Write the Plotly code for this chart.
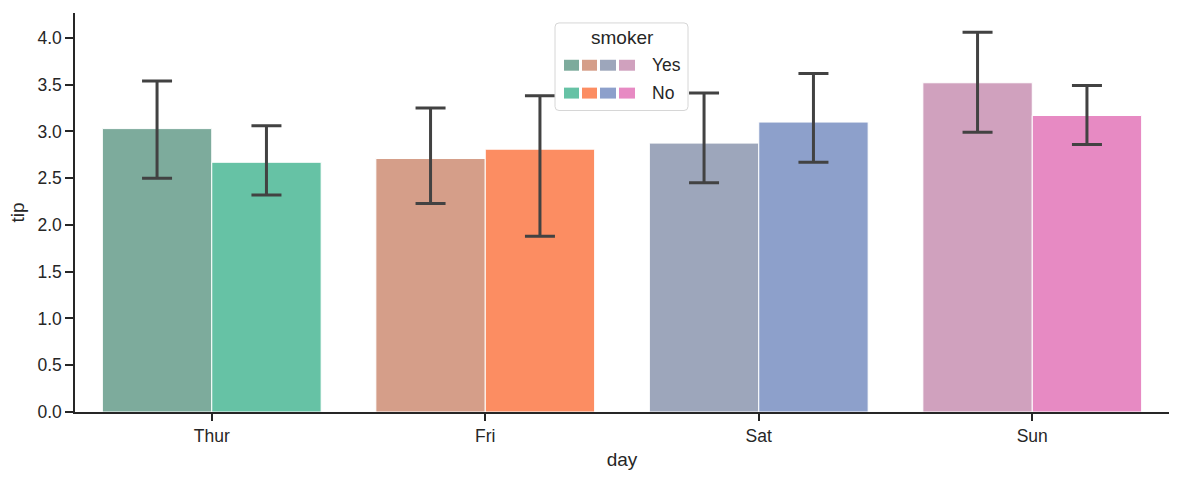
import colorsys
import plotly.graph_objects as go

days = ['Thur', 'Fri', 'Sat', 'Sun']
smoker_levels = ['Yes', 'No']

# mean tip per day / smoker, and the 95% CI ends
tip_yes = [3.03, 2.71, 2.875, 3.52]
tip_no = [2.67, 2.81, 3.10, 3.17]
ci_low_yes = [2.50, 2.23, 2.45, 2.99]
ci_high_yes = [3.54, 3.25, 3.41, 4.06]
ci_low_no = [2.32, 1.88, 2.67, 2.86]
ci_high_no = [3.06, 3.38, 3.62, 3.49]

y_ticks = [0.0, 0.5, 1.0, 1.5, 2.0, 2.5, 3.0, 3.5, 4.0]

set2 = ['#66c2a5', '#fc8d62', '#8da0cb', '#e78ac3']


def desaturate(hex_color, prop):
    r, g, b = (int(hex_color[i:i + 2], 16) / 255 for i in (1, 3, 5))
    h, l, s = colorsys.rgb_to_hls(r, g, b)
    r, g, b = colorsys.hls_to_rgb(h, l, s * prop)
    return '#%02x%02x%02x' % (round(r * 255), round(g * 255), round(b * 255))


colors_yes = [desaturate(c, 0.5) for c in set2]
colors_no = set2

TEXT = '#262626'
ERR = '#424242'
FONT = 'Liberation Sans, Arial, sans-serif'

# plot area in pixels (for placing the hand drawn legend)
W, H = 1184, 479
L, R, T, B = 75, 15, 13, 65
PW, PH = W - L - R, H - T - B


def px(x):
    return (x - L) / PW


def py(y):
    return (H - B - y) / PH


fig = go.Figure()

for name, vals, lo, hi, cols in [
    ('Yes', tip_yes, ci_low_yes, ci_high_yes, colors_yes),
    ('No', tip_no, ci_low_no, ci_high_no, colors_no),
]:
    fig.add_trace(go.Bar(
        x=days, y=vals, name=name,
        marker=dict(color=cols, line=dict(color='white', width=1)),
        error_y=dict(type='data', symmetric=False,
                     array=[h - v for h, v in zip(hi, vals)],
                     arrayminus=[v - l for v, l in zip(vals, lo)],
                     color=ERR, thickness=3, width=15),
        showlegend=False,
    ))

fig.update_layout(
    width=W, height=H,
    margin=dict(l=L, r=R, t=T, b=B),
    plot_bgcolor='white', paper_bgcolor='white',
    barmode='group', bargap=0.2, bargroupgap=0,
    font=dict(family=FONT, color=TEXT, size=17.5),
)

fig.update_xaxes(
    range=[-0.5, 3.5], showline=True, linecolor=TEXT, linewidth=1.5,
    ticks='outside', ticklen=7, tickwidth=1.5, tickcolor=TEXT,
    showgrid=False, zeroline=False,
    title=dict(text='day', font=dict(size=19), standoff=8),
)
fig.update_yaxes(
    range=[0, 4.266], showline=True, linecolor=TEXT, linewidth=1.5,
    ticks='outside', ticklen=8, tickwidth=1.5, tickcolor=TEXT,
    tickvals=y_ticks, tickformat='.1f',
    showgrid=False, zeroline=False,
    title=dict(text='tip', font=dict(size=19), standoff=8),
)

# legend box: title, four swatches per row, label
x0, x1, y0, y1, rad = 555, 688, 23, 111, 4
path = (f'M {px(x0 + rad)} {py(y0)} L {px(x1 - rad)} {py(y0)} '
        f'Q {px(x1)} {py(y0)} {px(x1)} {py(y0 + rad)} L {px(x1)} {py(y1 - rad)} '
        f'Q {px(x1)} {py(y1)} {px(x1 - rad)} {py(y1)} L {px(x0 + rad)} {py(y1)} '
        f'Q {px(x0)} {py(y1)} {px(x0)} {py(y1 - rad)} L {px(x0)} {py(y0 + rad)} '
        f'Q {px(x0)} {py(y0)} {px(x0 + rad)} {py(y0)} Z')
fig.add_shape(type='path', path=path, xref='paper', yref='paper',
              fillcolor='rgba(255,255,255,0.8)', line=dict(color='#d6d6d6', width=1))

fig.add_annotation(x=px(622), y=py(38), xref='paper', yref='paper', text='smoker',
                   showarrow=False, font=dict(size=19), xanchor='center', yanchor='middle')

swatch_x = [(564, 579), (582, 597), (600, 616), (619, 635)]
for label, cols, yc in [('Yes', colors_yes, 65.5), ('No', colors_no, 93.5)]:
    for (sx0, sx1), c in zip(swatch_x, cols):
        fig.add_shape(type='rect', xref='paper', yref='paper',
                      x0=px(sx0), x1=px(sx1), y0=py(yc - 5.5), y1=py(yc + 5.5),
                      fillcolor=c, line=dict(width=0))
    fig.add_annotation(x=px(650), y=py(yc), xref='paper', yref='paper', text=label,
                       showarrow=False, xanchor='left', yanchor='middle')

fig.write_html('out.html', config={'displayModeBar': False},
               post_script="document.body.style.margin='0';")
